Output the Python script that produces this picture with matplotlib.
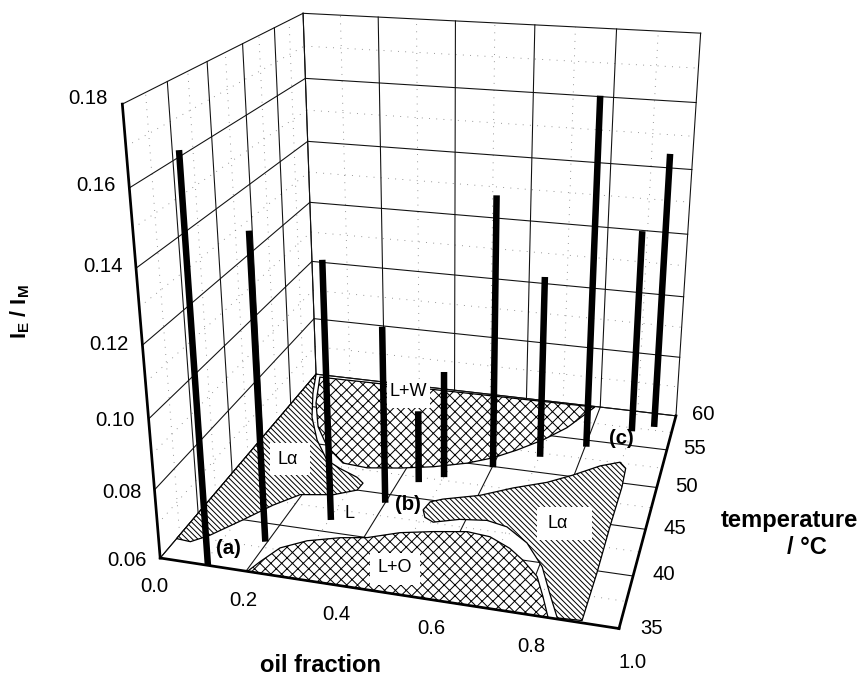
import numpy as np
import matplotlib
matplotlib.use("Agg")
import matplotlib.pyplot as plt
from matplotlib.patches import Rectangle
from mpl_toolkits.mplot3d import art3d

plt.rcParams["font.family"] = ["Liberation Sans", "DejaVu Sans"]
plt.rcParams["mathtext.fontset"] = "custom"
plt.rcParams["mathtext.bf"] = "Liberation Sans:bold"
plt.rcParams["hatch.linewidth"] = 0.55

W, H, DPI = 861, 675, 130

OIL_TICKS = [0.0, 0.2, 0.4, 0.6, 0.8, 1.0]
TEMP_TICKS = [35, 40, 45, 50, 55, 60]
RATIO_TICKS = [0.06, 0.08, 0.10, 0.12, 0.14, 0.16, 0.18]

# measured points: oil fraction, temperature, I_E / I_M
BAR_OIL = [0.112, 0.195, 0.304, 0.400, 0.448, 0.500, 0.602, 0.702, 0.803, 0.901, 0.953]
BAR_TEMP = [35.0, 38.1, 41.3, 44.0, 46.9, 47.9, 49.9, 52.0, 54.1, 57.0, 58.0]
BAR_RATIO = [0.1701, 0.1467, 0.1351, 0.1129, 0.0824, 0.0931,
             0.1427, 0.1167, 0.1670, 0.1246, 0.1469]

# phase regions on the floor of the chart
LA1_OIL = [0.0, 0.0, 0.035, 0.065, 0.111, 0.152, 0.196, 0.271, 0.318, 0.321,
           0.298, 0.243, 0.199, 0.139, 0.082, 0.034]
LA1_TEMP = [60.0, 37.1, 37.0, 37.9, 40.0, 42.0, 43.6, 44.1, 45.0, 45.9,
            46.5, 47.3, 48.1, 50.5, 53.5, 57.0]
LW_OIL = [0.017, 0.786, 0.737, 0.691, 0.639, 0.591, 0.536, 0.461, 0.384, 0.307,
          0.242, 0.176, 0.116, 0.063]
LW_TEMP = [59.6, 59.9, 56.4, 54.3, 52.5, 51.1, 50.0, 49.0, 48.3, 47.8,
           48.0, 49.8, 52.3, 55.6]
LO_OIL = [0.203, 0.215, 0.236, 0.283, 0.350, 0.407, 0.472, 0.542, 0.616, 0.670,
          0.723, 0.761, 0.804, 0.831, 0.856]
LO_TEMP = [35.0, 36.1, 37.7, 38.8, 39.6, 40.0, 41.0, 41.6, 42.1, 41.9,
           41.0, 40.0, 38.6, 36.8, 35.0]
LA2_OIL = [0.494, 0.500, 0.525, 0.604, 0.672, 0.744, 0.797, 0.853, 0.897, 0.915,
           0.920, 0.921, 0.924, 0.924, 0.874, 0.842, 0.807, 0.755, 0.697, 0.647,
           0.586, 0.531, 0.507]
LA2_TEMP = [43.8, 44.8, 45.3, 46.3, 47.7, 48.9, 50.2, 51.8, 52.6, 51.9,
            49.5, 44.7, 39.8, 35.2, 35.1, 37.2, 39.6, 41.8, 43.2, 43.6,
            43.3, 42.6, 43.0]


def fx(px):
    return px / W


def fy(py):
    return 1 - py / H


def main():
    fig = plt.figure(figsize=(W / DPI, H / DPI), dpi=DPI)
    # camera fitted to the frame of the original; axes box is larger than the figure
    ax = fig.add_axes([62.26 / W, 10.92 / H, 739.8 / W, 739.8 / H], projection="3d")
    ax.set_xlim(0, 1, view_margin=0)
    ax.set_ylim(35, 60, view_margin=0)
    ax.set_zlim(0.06, 0.18, view_margin=0)
    ax.view_init(21.076, -74.738, 0.058)
    ax.set_proj_type("persp", focal_length=0.3565)
    ax.set_box_aspect((1, 0.9871, 1.0063))
    ax.set_axis_off()
    ax.computed_zorder = False

    x0, x1 = OIL_TICKS[0], OIL_TICKS[-1]
    t0, t1 = TEMP_TICKS[0], TEMP_TICKS[-1]
    z0, z1 = RATIO_TICKS[0], RATIO_TICKS[-1]
    major = dict(color="#111111", lw=0.6, zorder=2)
    minor = dict(color="#888888", lw=0.5, ls=(0, (1, 7)), zorder=1)

    # major grid: floor and the two back walls
    for x in OIL_TICKS:
        ax.plot([x, x], [t0, t1], [z0, z0], **major)
        ax.plot([x, x], [t1, t1], [z0, z1], **major)
    for t in TEMP_TICKS:
        ax.plot([x0, x1], [t, t], [z0, z0], **major)
        ax.plot([x0, x0], [t, t], [z0, z1], **major)
    for z in RATIO_TICKS:
        ax.plot([x0, x0], [t0, t1], [z, z], **major)
        ax.plot([x0, x1], [t1, t1], [z, z], **major)

    # dotted minor grid halfway between the majors
    for x in np.add(OIL_TICKS[:-1], 0.1):
        ax.plot([x, x], [t0, t1], [z0, z0], **minor)
        ax.plot([x, x], [t1, t1], [z0, z1], **minor)
    for t in np.add(TEMP_TICKS[:-1], 2.5):
        ax.plot([x0, x1], [t, t], [z0, z0], **minor)
        ax.plot([x0, x0], [t, t], [z0, z1], **minor)
    for z in np.add(RATIO_TICKS[:-1], 0.01):
        ax.plot([x0, x0], [t0, t1], [z, z], **minor)
        ax.plot([x0, x1], [t1, t1], [z, z], **minor)

    for oil, temp, hatch in [(LA1_OIL, LA1_TEMP, "\\" * 8),
                             (LW_OIL, LW_TEMP, "xxxx"),
                             (LO_OIL, LO_TEMP, "xxxx"),
                             (LA2_OIL, LA2_TEMP, "\\" * 8)]:
        verts = [list(zip(oil, temp, [z0] * len(oil)))]
        ax.add_collection3d(art3d.Poly3DCollection(verts, facecolor="white", edgecolor="black",
                                                   hatch=hatch, linewidth=0.7, zorder=3))

    # heavy front edges of the frame
    heavy = dict(color="black", lw=1.5, zorder=4, solid_capstyle="projecting")
    ax.plot([x0, x0], [t0, t0], [z0, z1], **heavy)
    ax.plot([x0, x1], [t0, t0], [z0, z0], **heavy)
    ax.plot([x1, x1], [t0, t1], [z0, z0], **heavy)

    for oil, temp, ratio in zip(BAR_OIL, BAR_TEMP, BAR_RATIO):
        ax.plot([oil, oil], [temp, temp], [z0, ratio], color="black", lw=3.6,
                solid_capstyle="butt", zorder=6)

    # white boxes behind the phase names, as in the original
    for px, py, w, h in [(270, 443, 40, 32), (537, 507, 55, 33),
                         (370, 553, 50, 32), (387, 380, 43, 28)]:
        fig.add_artist(Rectangle((fx(px), fy(py + h)), w / W, h / H, transform=fig.transFigure,
                                 facecolor="white", edgecolor="none", zorder=5))

    phase = dict(fontsize=10, ha="center", va="center", zorder=7)
    fig.text(fx(288), fy(459), "L\u03b1", **phase)
    fig.text(fx(558), fy(524), "L\u03b1", **phase)
    fig.text(fx(395), fy(567), "L+O", **phase)
    fig.text(fx(408), fy(392), "L+W", **phase)
    fig.text(fx(350), fy(513), "L", **phase)
    tag = dict(fontsize=11.3, fontweight="bold", ha="center", va="center", zorder=7)
    fig.text(fx(228), fy(549), "(a)", **tag)
    fig.text(fx(408), fy(504), "(b)", **tag)
    fig.text(fx(621), fy(438), "(c)", **tag)

    tick = dict(fontsize=11.2, va="center", zorder=7)
    for v, px, py in zip(RATIO_TICKS, [147, 142, 135, 129, 123, 116, 108],
                         [561, 492, 420, 345, 267, 185, 98]):
        fig.text(fx(px), fy(py), f"{v:.2f}", ha="right", **tick)
    for v, px, py in zip(OIL_TICKS, [154, 243, 336, 431, 531, 633],
                         [587, 600, 615, 629, 646, 662]):
        fig.text(fx(px), fy(py), f"{v:.1f}", ha="center", **tick)
    for v, px, py in zip(TEMP_TICKS, [652, 664, 675, 686, 695, 703],
                         [628, 575, 528, 487, 449, 415]):
        fig.text(fx(px), fy(py), f"{v}", ha="center", **tick)

    label = dict(fontsize=13.2, fontweight="bold", va="center", zorder=7)
    fig.text(fx(321), fy(665), "oil fraction", ha="center", **label)
    fig.text(fx(858), fy(520), "temperature", ha="right", **label)
    fig.text(fx(807), fy(548), "/ \u00b0C", ha="center", **label)
    fig.text(fx(20), fy(312), r"I$_{\mathbf{E}}$ / I$_{\mathbf{M}}$", rotation=90,
             ha="center", fontsize=12, fontweight="bold", va="center")

    fig.savefig("out.png", dpi=DPI)


if __name__ == "__main__":
    main()
